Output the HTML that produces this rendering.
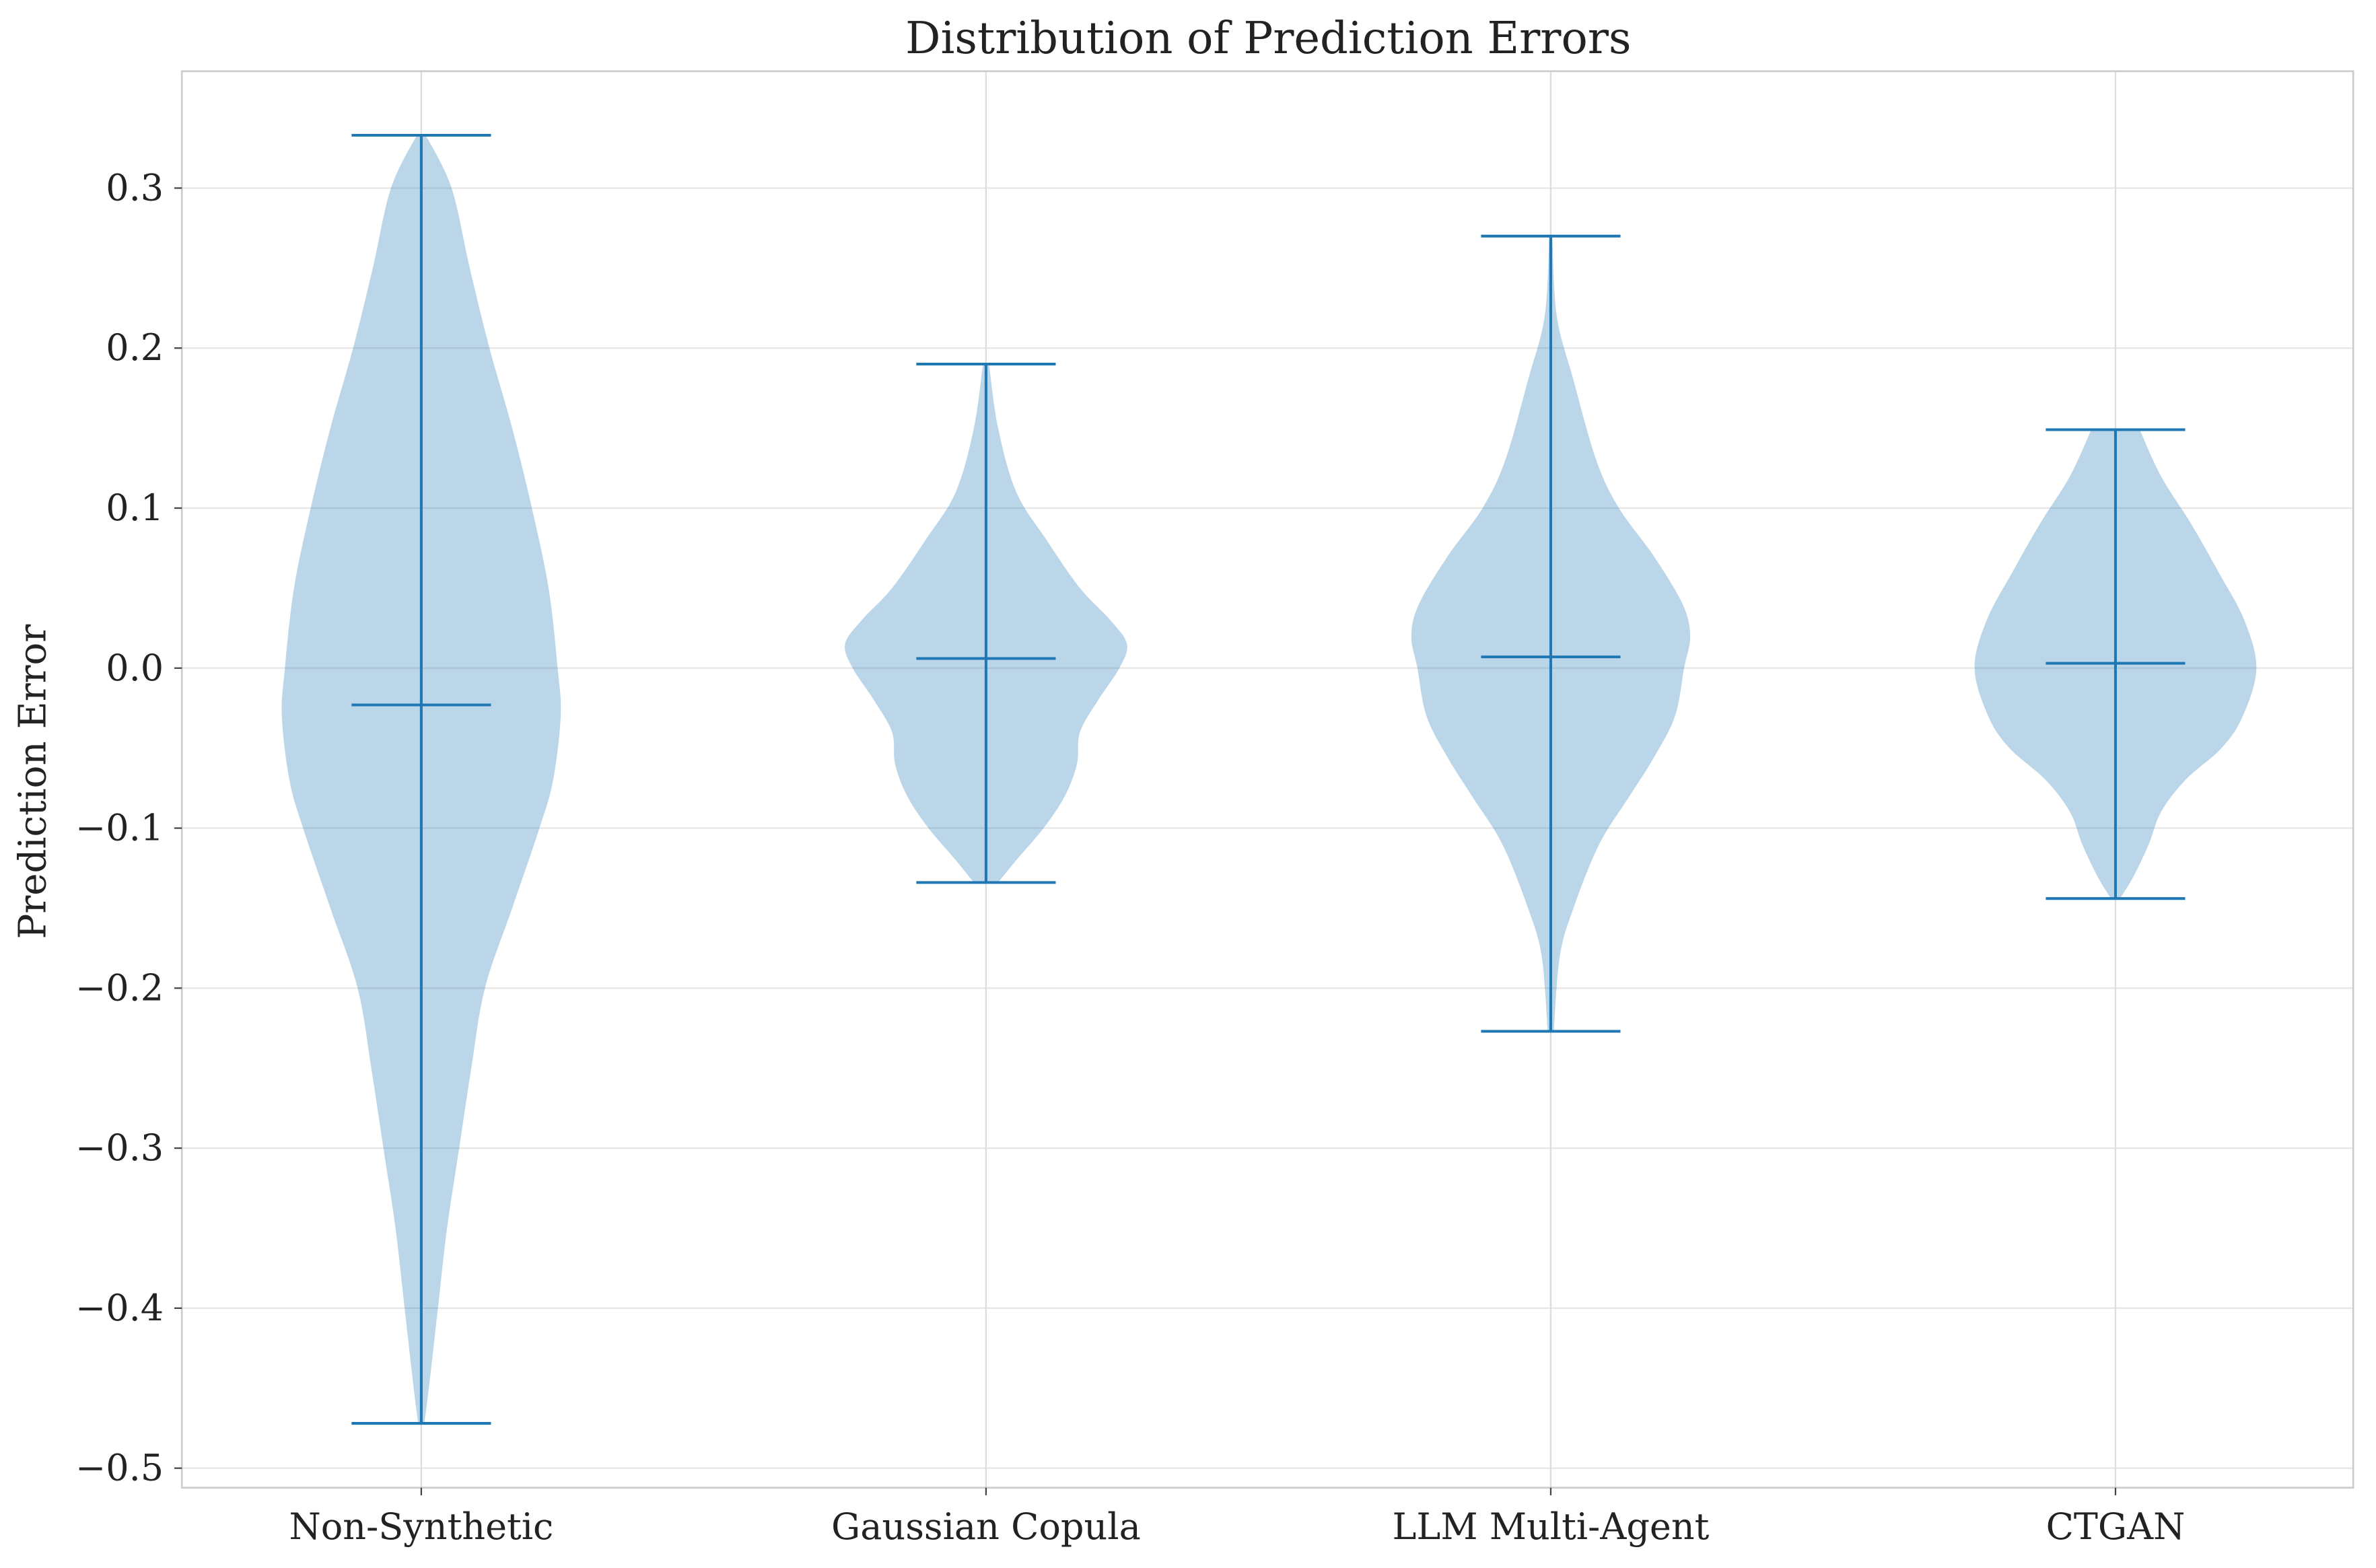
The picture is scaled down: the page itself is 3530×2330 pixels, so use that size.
<!DOCTYPE html>
<html><head><meta charset="utf-8"><style>
html,body{margin:0;padding:0;background:#fff}
svg{display:block}
text{font-family:"DejaVu Serif","Liberation Serif",serif;fill:#222}
</style></head><body>
<svg id="chart" width="3530" height="2330" viewBox="0 0 1568 1035" xmlns="http://www.w3.org/2000/svg">
<rect x="0" y="0" width="1568" height="1035" fill="#fff"/>
<g id="grid"></g>
<g id="violins"></g>
<rect x="120" y="47" width="1433" height="935" fill="none" stroke="#ccc" stroke-width="1.2"/>
<g id="ticks"></g>
<text x="837" y="35" text-anchor="middle" font-size="29">Distribution of Prediction Errors</text>
<text transform="translate(30,516) rotate(-90)" text-anchor="middle" font-size="25">Prediction Error</text>
</svg>
<script>
const categories = ["Non-Synthetic","Gaussian Copula","LLM Multi-Agent","CTGAN"];
const yTicks = [0.3,0.2,0.1,0.0,-0.1,-0.2,-0.3,-0.4,-0.5];
const mins = [-0.472,-0.134,-0.227,-0.144];
const maxs = [0.333,0.190,0.270,0.149];
const medians = [-0.023,0.006,0.007,0.003];
const profY0 = [0.333,0.30,0.25,0.20,0.15,0.10,0.05,0.0,-0.03,-0.07,-0.10,-0.15,-0.20,-0.25,-0.30,-0.35,-0.40,-0.45,-0.472];
const profW0 = [3,20,32,45,60,73,84,90,92,87,78,60,42,33,25,17,11,5,2];
const profY1 = [0.19,0.15,0.11,0.08,0.05,0.03,0.015,0.0,-0.02,-0.04,-0.06,-0.08,-0.10,-0.12,-0.134];
const profW1 = [2,8,20,40,62,82,93,88,74,62,60,52,38,20,8];
const profY2 = [0.27,0.22,0.18,0.13,0.10,0.07,0.04,0.02,0.0,-0.03,-0.056,-0.08,-0.11,-0.15,-0.18,-0.227];
const profW2 = [1,4,15,30,45,68,87,92,88,82,68,52,32,15,6,2];
const profY3 = [0.149,0.12,0.09,0.06,0.03,0.0,-0.03,-0.05,-0.07,-0.09,-0.11,-0.13,-0.144];
const profW3 = [16,30,50,68,85,93,84,70,46,30,22,12,3];

const profYs=[profY0,profY1,profY2,profY3], profWs=[profW0,profW1,profW2,profW3];
const NS="http://www.w3.org/2000/svg";
const X0=120,X1=1553,Y0=47,Y1=982;
function xs(i){return 278+(i)*372.7;}
function ys(v){return 441-v*1056.2;}
function mk(tag,attrs,parent){const e=document.createElementNS(NS,tag);for(const k in attrs)e.setAttribute(k,attrs[k]);parent.appendChild(e);return e;}
const grid=document.getElementById('grid'),vg=document.getElementById('violins'),tg=document.getElementById('ticks');
yTicks.forEach(t=>{
  const y=ys(t);
  const l=mk('line',{x1:X0,x2:X1,y1:y,y2:y,stroke:'#e6e6e6','stroke-width':1},grid);
  
  
  const tk=mk('line',{x1:X0-5,x2:X0,y1:y,y2:y,stroke:'#444','stroke-width':1},tg);
  
  
  const tx=mk('text',{x:X0-12,y:y+8,'text-anchor':'end','font-size':24},tg);
  tx.textContent=(t<0?'\u2212':'')+Math.abs(t).toFixed(1);
  
  
});
function smooth(pts){
  let d='M'+pts[0][0]+','+pts[0][1];
  for(let i=0;i<pts.length-1;i++){
    const p0=pts[Math.max(0,i-1)],p1=pts[i],p2=pts[i+1],p3=pts[Math.min(pts.length-1,i+2)];
    const c1=[p1[0]+(p2[0]-p0[0])/6,p1[1]+(p2[1]-p0[1])/6];
    const c2=[p2[0]-(p3[0]-p1[0])/6,p2[1]-(p3[1]-p1[1])/6];
    d+='C'+c1+' '+c2+' '+p2;
  }
  return d;
}
categories.forEach((c,i)=>{
  const cx=xs(i);
  const gl=mk('line',{x1:cx,x2:cx,y1:Y0,y2:Y1,stroke:'#dcdcdc','stroke-width':1},grid);
  
  
  const py=profYs[i],pw=profWs[i];
  const right=py.map((v,k)=>[cx+pw[k],ys(v)]);
  const left=py.map((v,k)=>[cx-pw[k],ys(v)]).reverse();
  const sl=smooth(left);
  let d=smooth(right)+'L'+left[0]+sl.slice(sl.indexOf('C'))+'Z';
  const body=mk('path',{d:d,fill:'#1f77b4','fill-opacity':0.3,stroke:'none'},vg);
  
  
  const st={stroke:'#1f77b4','stroke-width':1.8};
  const bar=mk('line',Object.assign({x1:cx,x2:cx,y1:ys(maxs[i]),y2:ys(mins[i])},st),vg);
  
  
  [[maxs[i],'max-cap'],[mins[i],'min-cap'],[medians[i],'median-line']].forEach(([v,n])=>{
    const l=mk('line',Object.assign({x1:cx-46,x2:cx+46,y1:ys(v),y2:ys(v)},st),vg);
    
    
  });
  const tk=mk('line',{x1:cx,x2:cx,y1:Y1,y2:Y1+5,stroke:'#444','stroke-width':1},tg);
  
  
  const tx=mk('text',{x:cx,y:1016,'text-anchor':'middle','font-size':24},tg);
  tx.textContent=c;
  
  
});
</script>
</body></html>
